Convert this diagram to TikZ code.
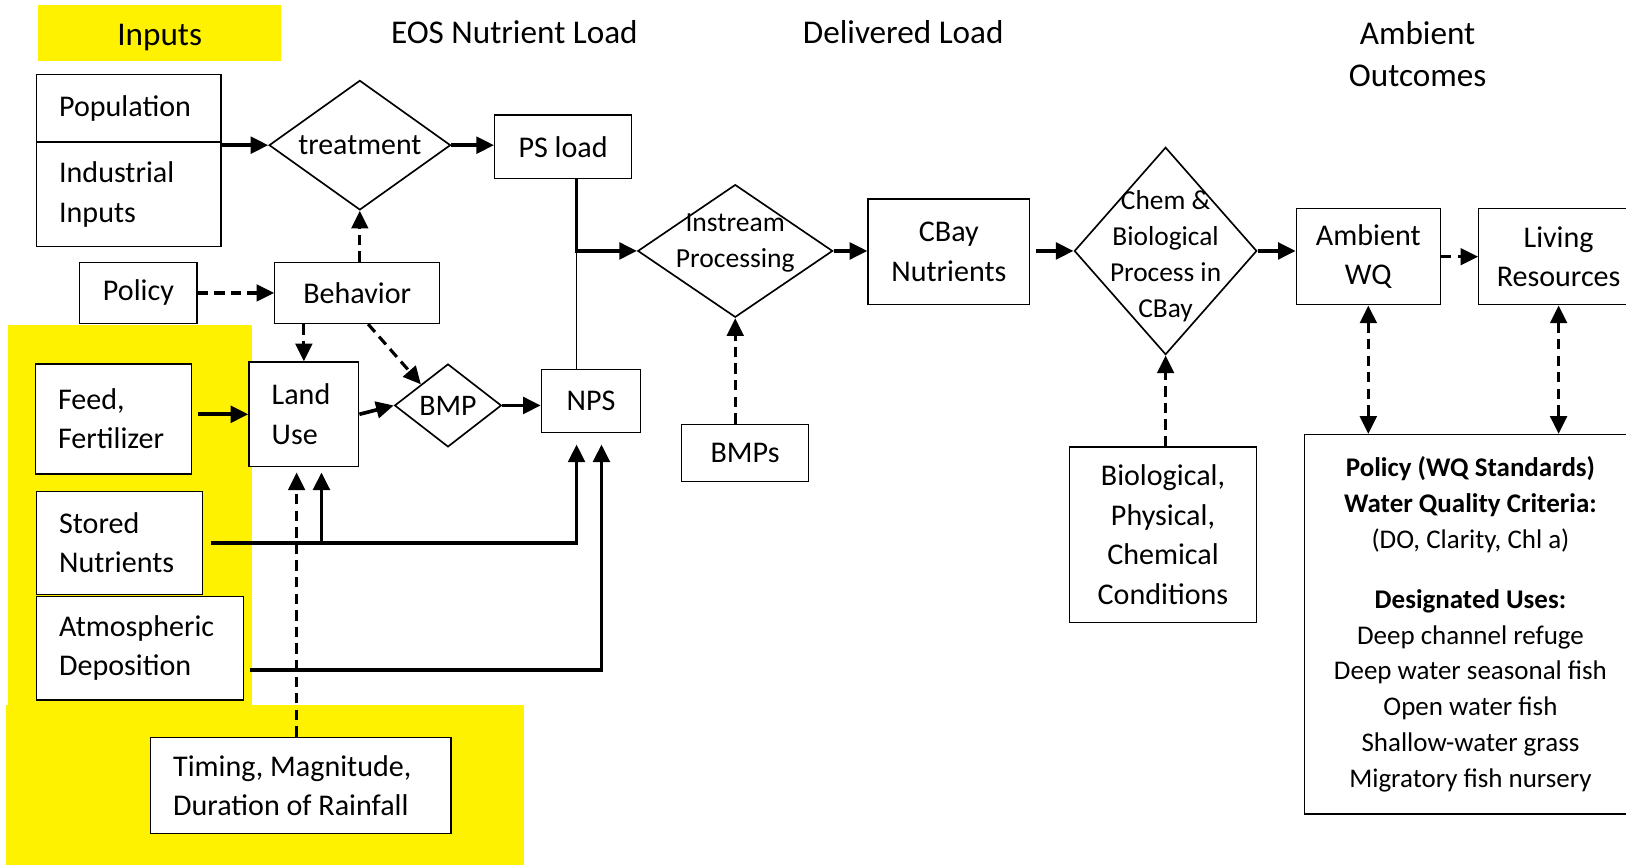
\documentclass[tikz,border=0pt]{standalone}
\usepackage{fontspec}
\setmainfont{Carlito}
\usetikzlibrary{shapes.geometric,arrows.meta}
\frenchspacing

\begin{document}
\begin{tikzpicture}[x=0.5pt,y=-0.5pt,
  box/.style={draw, fill=white, line width=0.6pt, align=center, inner sep=0pt,
    font=\fontsize{14.5}{19}\selectfont},
  lbox/.style={draw, fill=white, line width=0.6pt, align=flush left, inner xsep=11pt,
    inner ysep=0pt, font=\fontsize{14.5}{19}\selectfont},
  dia/.style={draw, diamond, fill=white, line width=0.8pt, inner sep=0pt},
  dtext/.style={align=center, inner sep=0pt},
  head/.style={align=center, inner sep=0pt, font=\fontsize{16}{20.5}\selectfont},
  arr/.style={line width=1.75pt, -{Triangle[length=8.5pt,width=8pt]}},
  darr/.style={line width=1.5pt, dash pattern=on 5pt off 3pt,
    -{Triangle[length=8.5pt,width=8pt]}},
  ddarr/.style={line width=1.5pt, dash pattern=on 5pt off 3pt,
    {Triangle[length=8.5pt,width=8pt]}-{Triangle[length=8.5pt,width=8pt]}},
  thinline/.style={line width=0.6pt},
  hl/.style={fill=yellow}]

\useasboundingbox (0,0) rectangle (1568,834);
\clip (0,0) rectangle (1568,834);

% highlighted input areas
\fill[yellow] (8,313) rectangle (243,681);
\fill[yellow] (6,680) rectangle (505,834);

% column headings
\node[hl, minimum width=117pt, minimum height=27pt,
  label={[head, yshift=-2pt]center:Inputs}] (inputs) at (154,32) {};
\node[head] (eos) at (496,31) {EOS Nutrient Load};
\node[head] (deliv) at (871,31) {Delivered Load};
\node[head] (ambout) at (1367,52) {Ambient\\Outcomes};

% point-source chain
\node[lbox, text width=67pt, minimum height=32.5pt] (pop) at (124,104.5) {Population};
\node[lbox, text width=67pt, minimum height=50.5pt] (ind) at (124,187.5) {Industrial\\Inputs};
\node[dia, minimum width=87.5pt, minimum height=62.5pt,
  label={[dtext, font=\fontsize{14.4}{18}\selectfont]center:treatment}] (treat) at (347,140) {};
\node[box, minimum width=66pt, minimum height=30.5pt] (ps) at (543,141.5) {PS load};

% delivery and bay processes
\node[dia, minimum width=94pt, minimum height=64pt,
  label={[dtext, font=\fontsize{13.3}{17.5}\selectfont, yshift=3.75pt]center:Instream\\Processing}] (instream) at (709,242) {};
\node[box, minimum width=78pt, minimum height=51pt] (cbay) at (915,243) {CBay\\Nutrients};
\node[dia, minimum width=88pt, minimum height=100pt,
  label={[dtext, font=\fontsize{13.2}{17.3}\selectfont, yshift=-2.5pt]center:Chem \&\\Biological\\Process in\\CBay}] (chem) at (1124,242) {};
\node[box, minimum width=69.5pt, minimum height=46.5pt] (awq) at (1319.5,247.5) {Ambient\\WQ};
\node[box, minimum width=77pt, minimum height=46.5pt] (living) at (1503,247.5) {Living\\Resources};
\node[box, minimum width=160pt, minimum height=183pt, font=\fontsize{13}{17.3}\selectfont] (wqs) at (1418,602)
  {\textbf{Policy (WQ Standards)}\\
   \textbf{Water Quality Criteria:}\\
   (DO, Clarity, Chl a)\\[11.7pt]
   \textbf{Designated Uses:}\\
   Deep channel refuge\\
   Deep water seasonal fish\\
   Open water fish\\
   Shallow-water grass\\
   Migratory fish nursery};
\node[box, minimum width=90.5pt, minimum height=84.5pt] (bio) at (1121.5,515.5) {Biological,\\Physical,\\Chemical\\Conditions};
\node[box, minimum width=61.5pt, minimum height=27.5pt] (bmps) at (718.5,436.5) {BMPs};

% behaviour and land side
\node[box, minimum width=56.5pt, minimum height=29.5pt] (policy) at (133.5,282.5) {Policy};
\node[box, minimum width=79.5pt, minimum height=29.5pt] (behav) at (344.5,282.5) {Behavior};
\node[lbox, text width=53.5pt, minimum height=53pt] (feed) at (109.5,404) {Feed,\\Fertilizer};
\node[lbox, text width=31pt, minimum height=50.5pt] (land) at (293,399.5) {Land\\Use};
\node[dia, minimum width=51.5pt, minimum height=40pt,
  label={[dtext, font=\fontsize{14.4}{18}\selectfont]center:BMP}] (bmp) at (432,391) {};
\node[box, minimum width=48pt, minimum height=30.5pt] (nps) at (570,386.5) {NPS};
\node[lbox, text width=58pt, minimum height=49.5pt] (stored) at (115,523.5) {Stored\\Nutrients};
\node[lbox, text width=78pt, minimum height=50pt] (atmos) at (135,625) {Atmospheric\\Deposition};
\node[lbox, text width=123pt, minimum height=46.5pt] (timing) at (290,757.5) {Timing, Magnitude,\\Duration of Rainfall};

% junctions
\coordinate (pj) at (556,243);
\coordinate (npsA) at ([xshift=-7pt,yshift=-5.5pt]nps.south);
\coordinate (npsB) at ([xshift=5pt,yshift=-5.5pt]nps.south);
\coordinate (landA) at ([xshift=8.5pt,yshift=-2.5pt]land.south);
\coordinate (landB) at ([xshift=-3.5pt,yshift=-2.5pt]land.south);

% solid flows
\draw[arr] (ind.north east |- treat.west) -- (treat.west);
\draw[arr] (treat.east) -- (treat.east -| ps.west);
\draw[arr] (ps.south -| pj) |- (instream.west);
\draw[thinline] (pj) -- (pj |- nps.north);
\draw[arr] (instream.east) -- (instream.east -| cbay.west);
\draw[arr, shorten <=2.5pt] (cbay.east |- chem.west) -- (chem.west);
\draw[arr] (chem.east) -- (chem.east -| awq.west);
\draw[arr, shorten <=2.5pt] (feed.east |- land.west) -- (land.west);
\draw[arr] (land.east) -- (bmp.west);
\draw[arr] (bmp.east) -- (bmp.east -| nps.west);
\draw[arr, shorten <=4pt] (stored.east) -| (npsA);
\draw[arr] (stored.east -| landA) -- (landA);
\draw[arr, shorten <=2.5pt] ([yshift=-10.5pt]atmos.east) -| (npsB);

% influences
\draw[darr] (awq.east) -- (living.west);
\draw[ddarr] (awq.south) -- (awq.south |- wqs.north);
\draw[ddarr] (living.south) -- (living.south |- wqs.north);
\draw[darr] (bio.north -| chem.south) -- (chem.south);
\draw[darr] (bmps.north -| instream.south) -- (instream.south);
\draw[darr] (policy.east) -- (behav.west);
\draw[darr] (behav.north -| treat.south) -- (treat.south);
\draw[darr] (behav.south -| land.north) -- (land.north);
\draw[darr] ([xshift=5.25pt]behav.south) -- (bmp.north west);
\draw[darr] (timing.north -| landB) -- (landB);
\end{tikzpicture}
\end{document}
